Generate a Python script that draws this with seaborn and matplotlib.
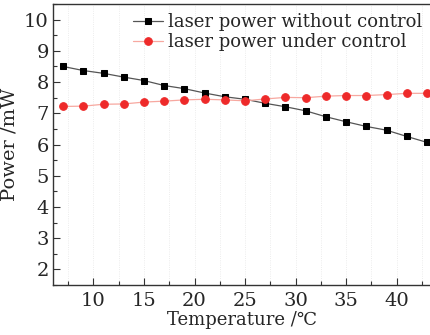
import matplotlib
matplotlib.use("Agg")
import matplotlib.pyplot as plt
from matplotlib.ticker import MultipleLocator
import seaborn as sns
import pandas as pd

# temperature points (degC)
temperature = [7, 9, 11, 13, 15, 17, 19, 21, 23, 25, 27, 29, 31, 33, 35, 37, 39, 41, 43]

# laser power (mW)
power_without = [8.50, 8.37, 8.28, 8.16, 8.05, 7.89, 7.79, 7.65, 7.53, 7.45,
                 7.32, 7.21, 7.08, 6.89, 6.73, 6.58, 6.46, 6.26, 6.07]
power_under = [7.22, 7.23, 7.29, 7.30, 7.36, 7.39, 7.43, 7.45, 7.43, 7.40,
               7.46, 7.51, 7.50, 7.55, 7.57, 7.57, 7.60, 7.64, 7.64]

labels = ["laser power without control", "laser power under control"]

df_without = pd.DataFrame({"T": temperature, "P": power_without})
df_under = pd.DataFrame({"T": temperature, "P": power_under})

sns.set_style("ticks")
plt.rcParams["font.family"] = ["DejaVu Serif", "DejaVu Sans"]
plt.rcParams["mathtext.fontset"] = "dejavuserif"

fig = plt.figure(figsize=(4.31, 3.35), dpi=100)
ax = fig.add_axes([0.123, 0.149, 0.877, 0.839])

sns.lineplot(data=df_without, x="T", y="P", ax=ax, color="#555555", lw=0.9,
             marker="s", markersize=5, markerfacecolor="black",
             markeredgecolor="black", label=labels[0])
sns.lineplot(data=df_under, x="T", y="P", ax=ax, color="#f7a8a0", lw=0.9,
             marker="o", markersize=5.5, markerfacecolor="#ee2a2a",
             markeredgecolor="#ee2a2a", label=labels[1])

ax.set_xlim(6, 43.4)
ax.set_ylim(1.5, 10.5)
ax.xaxis.set_major_locator(MultipleLocator(5))
ax.xaxis.set_minor_locator(MultipleLocator(2.5))
ax.yaxis.set_major_locator(MultipleLocator(1))
ax.yaxis.set_minor_locator(MultipleLocator(0.5))
ax.tick_params(which="both", direction="in", labelsize=14, width=0.8, color="#333333")
ax.tick_params(which="major", length=5)
ax.tick_params(which="minor", length=3)
ax.tick_params(axis="x", pad=5)
ax.tick_params(axis="y", pad=3)

ax.grid(axis="x", which="both", color="#e6e6e6", lw=0.6, ls=":")

for side in ["left", "bottom", "top"]:
    ax.spines[side].set_color("#333333")
    ax.spines[side].set_linewidth(1.0)
ax.spines["right"].set_visible(False)

ax.set_xlabel("Temperature /\u2103", fontsize=13, labelpad=1)
ax.set_ylabel("Power /mW", fontsize=14, labelpad=4)

leg = ax.legend(loc="upper right", frameon=False, fontsize=13, handlelength=1.7,
                handletextpad=0.25, borderaxespad=0.1, labelspacing=0.12,
                bbox_to_anchor=(1.0, 1.0))

fig.savefig("out.png", dpi=100)
